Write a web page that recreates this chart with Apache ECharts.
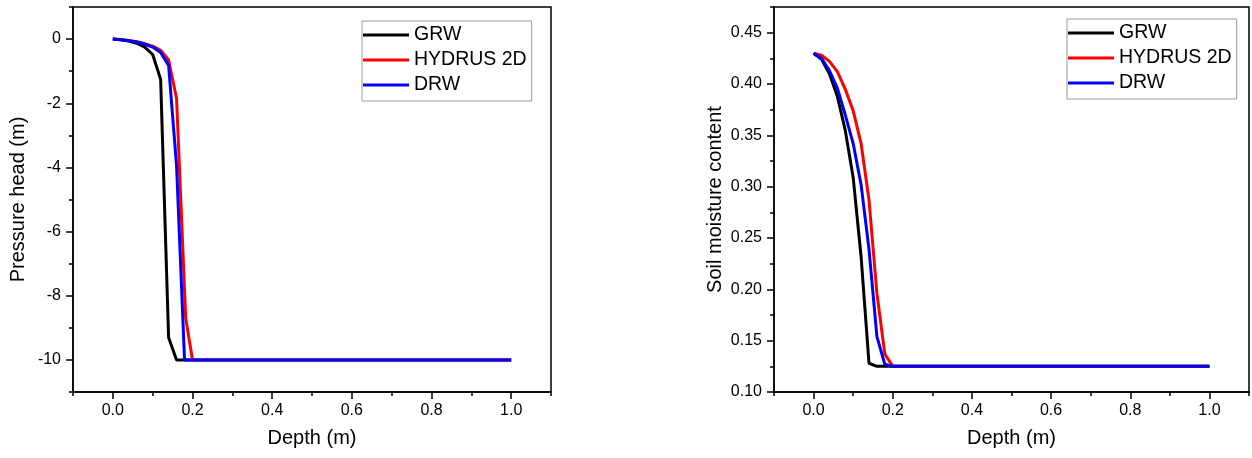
<!DOCTYPE html>
<html>
<head>
<meta charset="utf-8">
<script src="https://cdn.jsdelivr.net/npm/echarts@6/dist/echarts.min.js"></script>
<style>
  html, body { margin: 0; padding: 0; background: #fff; }
  #chart { width: 1252px; height: 458px; }
</style>
</head>
<body>
<div id="chart"></div>
<script>
// depth nodes (m)
const depth = [0, 0.02, 0.04, 0.06, 0.08, 0.10, 0.12, 0.14, 0.16, 0.18, 0.20, 1.0];
const depthHydrusHead = [0, 0.02, 0.04, 0.06, 0.08, 0.10, 0.12, 0.14, 0.16, 0.183, 0.20, 1.0];

// pressure head (m)
const headGRW = [0, -0.02, -0.06, -0.13, -0.25, -0.48, -1.25, -9.3, -10, -10, -10, -10];
const headHydrus = [0, -0.01, -0.04, -0.08, -0.14, -0.22, -0.35, -0.65, -1.85, -8.7, -10, -10];
const headDRW = [0, -0.02, -0.05, -0.09, -0.16, -0.25, -0.42, -0.82, -3.95, -10, -10, -10];

// soil moisture content
const thetaGRW = [0.430, 0.424, 0.410, 0.388, 0.355, 0.309, 0.232, 0.128, 0.125, 0.125, 0.125, 0.125];
const thetaHydrus = [0.430, 0.428, 0.422, 0.412, 0.395, 0.374, 0.342, 0.287, 0.196, 0.137, 0.125, 0.125];
const thetaDRW = [0.430, 0.425, 0.413, 0.396, 0.370, 0.342, 0.302, 0.239, 0.154, 0.127, 0.125, 0.125];

const depthLabels = [0, 0.2, 0.4, 0.6, 0.8, 1.0];
const headLabels = [-10, -8, -6, -4, -2, 0];
const thetaLabels = [0.10, 0.15, 0.20, 0.25, 0.30, 0.35, 0.40, 0.45];

const names = ['GRW', 'HYDRUS 2D', 'DRW'];
const colors = ['#000000', '#ff0000', '#0000ff'];
const FONT = 'Liberation Sans';

const zip = (xs, ys) => xs.map((x, i) => [x, ys[i]]);
const tickStyle = { color: '#000', width: 1.5 };
const nameStyle = { fontFamily: FONT, fontSize: 20, color: '#000' };

function minorX(grid) {
  return {
    type: 'value', gridIndex: grid, position: 'bottom', min: -0.1, max: 1.1, interval: 0.1,
    name: 'Depth (m)', nameLocation: 'middle', nameGap: 36, nameTextStyle: nameStyle,
    axisLine: { show: true, onZero: false, lineStyle: tickStyle },
    axisTick: { show: true, inside: false, length: 4, lineStyle: tickStyle },
    axisLabel: {
      margin: 11, fontFamily: FONT, fontSize: 16, color: '#000',
      formatter: v => {
        const r = Math.round(v * 10);
        return (r >= 0 && r <= 10 && r % 2 === 0) ? (r / 10).toFixed(1) : '';
      }
    },
    splitLine: { show: false }
  };
}
function majorX(grid) {
  return {
    type: 'value', gridIndex: grid, position: 'bottom', min: -0.1, max: 1.1,
    axisLine: { show: false, onZero: false },
    axisTick: { show: true, inside: false, length: 7, customValues: depthLabels, lineStyle: tickStyle },
    axisLabel: { show: false, customValues: depthLabels },
    splitLine: { show: false }
  };
}

const option = {
  animation: false,
  backgroundColor: '#fff',
  grid: [
    { left: 73, top: 7, width: 478, height: 385, show: true, borderColor: '#000', borderWidth: 1.5 },
    { left: 774, top: 7, width: 477, height: 385, show: true, borderColor: '#000', borderWidth: 1.5 }
  ],
  legend: [0, 1].map(i => ({
    data: names,
    orient: 'vertical',
    left: i === 0 ? 362 : 1067,
    top: i === 0 ? 21 : 19,
    icon: 'rect',
    itemWidth: 46,
    itemHeight: 3,
    itemGap: 5,
    padding: [4, 5, 6, 1],
    borderColor: '#999',
    borderWidth: 1,
    backgroundColor: '#fff',
    textStyle: { fontFamily: FONT, fontSize: 19.5, lineHeight: 19, color: '#000' }
  })),
  xAxis: [minorX(0), majorX(0), minorX(1), majorX(1)],
  yAxis: [
    {
      type: 'value', gridIndex: 0, position: 'left', min: -11, max: 1, interval: 1,
      name: 'Pressure head (m)', nameLocation: 'middle', nameGap: 45, nameTextStyle: nameStyle,
      axisLine: { show: true, onZero: false, lineStyle: tickStyle },
      axisTick: { show: true, inside: false, length: 4, lineStyle: tickStyle },
      axisLabel: {
        margin: 12, fontFamily: FONT, fontSize: 16, color: '#000',
        formatter: v => {
          const r = Math.round(v);
          return (r <= 0 && r >= -10 && r % 2 === 0) ? String(r) : '';
        }
      },
      splitLine: { show: false }
    },
    {
      type: 'value', gridIndex: 0, position: 'left', min: -11, max: 1,
      axisLine: { show: false, onZero: false },
      axisTick: { show: true, inside: false, length: 7, customValues: headLabels, lineStyle: tickStyle },
      axisLabel: { show: false, customValues: headLabels },
      splitLine: { show: false }
    },
    {
      type: 'value', gridIndex: 1, position: 'left', min: 0.1, max: 0.475, interval: 0.025,
      name: 'Soil moisture content', nameLocation: 'middle', nameGap: 49, nameTextStyle: nameStyle,
      axisLine: { show: true, onZero: false, lineStyle: tickStyle },
      axisTick: { show: true, inside: false, length: 4, lineStyle: tickStyle },
      axisLabel: {
        margin: 12, fontFamily: FONT, fontSize: 16, color: '#000',
        formatter: v => {
          const r = Math.round(v * 1000);
          return (r % 50 === 0 && r <= 450) ? (r / 1000).toFixed(2) : '';
        }
      },
      splitLine: { show: false }
    },
    {
      type: 'value', gridIndex: 1, position: 'left', min: 0.1, max: 0.475,
      axisLine: { show: false, onZero: false },
      axisTick: { show: true, inside: false, length: 7, customValues: thetaLabels, lineStyle: tickStyle },
      axisLabel: { show: false, customValues: thetaLabels },
      splitLine: { show: false }
    }
  ],
  series: [
    { name: names[0], data: zip(depth, headGRW), xAxisIndex: 0, yAxisIndex: 0 },
    { name: names[1], data: zip(depthHydrusHead, headHydrus), xAxisIndex: 0, yAxisIndex: 0 },
    { name: names[2], data: zip(depth, headDRW), xAxisIndex: 0, yAxisIndex: 0 },
    { name: names[0], data: zip(depth, thetaGRW), xAxisIndex: 2, yAxisIndex: 2 },
    { name: names[1], data: zip(depth, thetaHydrus), xAxisIndex: 2, yAxisIndex: 2 },
    { name: names[2], data: zip(depth, thetaDRW), xAxisIndex: 2, yAxisIndex: 2 }
  ].map((s, i) => Object.assign({
    type: 'line',
    showSymbol: false,
    symbol: 'none',
    color: colors[i % 3],
    lineStyle: { width: 3, color: colors[i % 3] },
    z: 2 + (i % 3)
  }, s))
};

const chart = echarts.init(document.getElementById('chart'));
chart.setOption(option);
</script>
</body>
</html>
